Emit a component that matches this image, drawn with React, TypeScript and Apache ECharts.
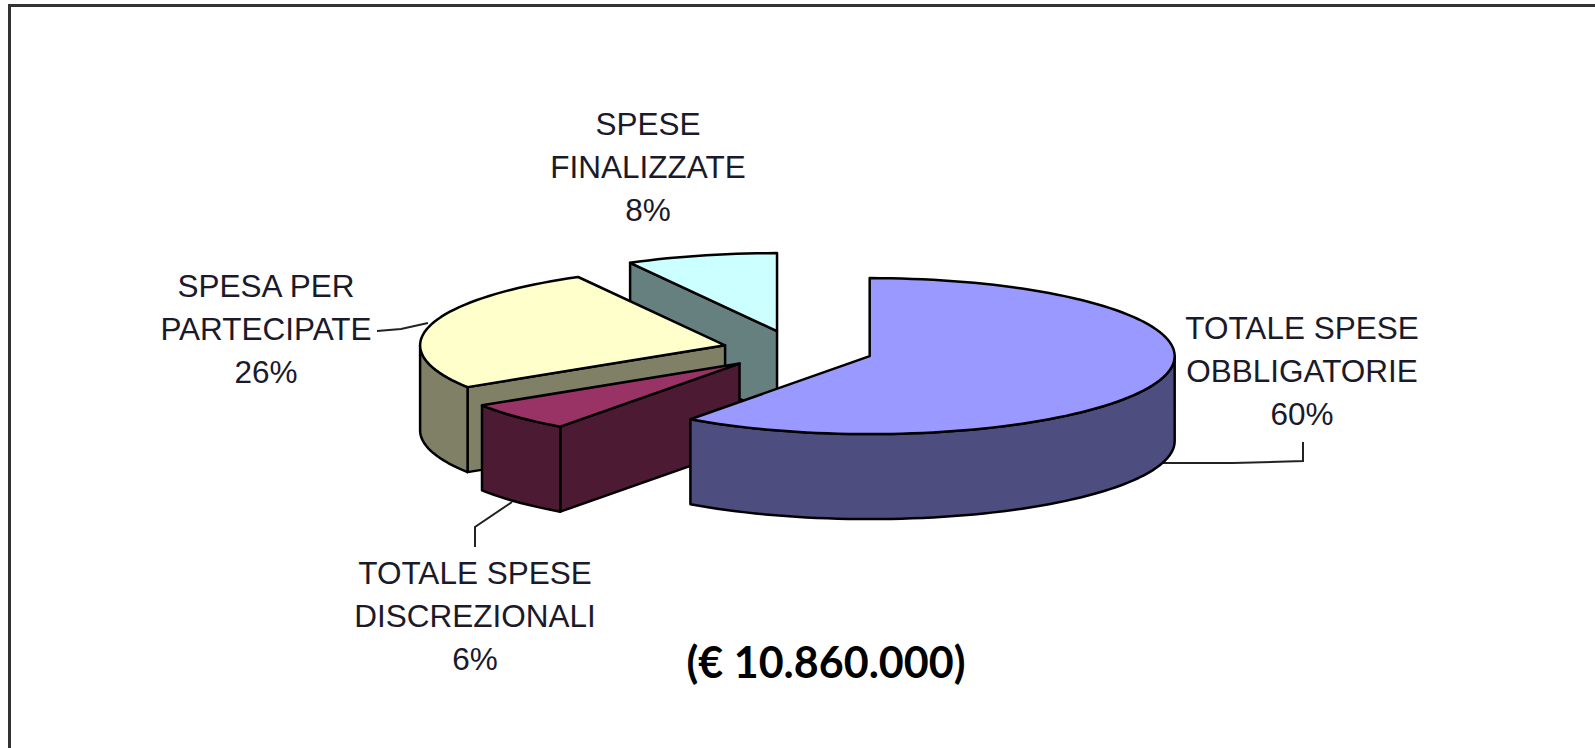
import React, { useEffect, useRef } from "react";
import * as echarts from "echarts";

// Paint order: back slices first, front slice last.
const categories = [
  "SPESE\nFINALIZZATE",
  "SPESA PER\nPARTECIPATE",
  "TOTALE SPESE\nDISCREZIONALI",
  "TOTALE SPESE\nOBBLIGATORIE",
];
const values = [8, 26, 6, 60];
const topColors = ["#ccffff", "#ffffcc", "#993366", "#9999ff"];
const wallColors = ["#668080", "#808066", "#4d1a33", "#4d4d80"];
const explodes = [0.25, 0.24, 0.254, 0.254];
const labelCentres = [
  [648, 167],
  [266, 329],
  [475, 616],
  [1302, 371],
];
const totalLabel = "(€ 10.860.000)";

const CX = 796;
const CY = 350;
const RX = 305;
const RY = 78;
const DEPTH = 85;
const RAD = Math.PI / 180;

const total = values.reduce((a, b) => a + b, 0);
const ends: number[] = [];
{
  let e = 360;
  for (const v of values) {
    ends.push(e);
    e -= (v / total) * 360;
  }
}

function arcPoints(ax: number, ay: number, from: number, to: number, dy = 0) {
  const pts: number[][] = [];
  const n = Math.max(2, Math.ceil((to - from) / 2));
  for (let i = 0; i <= n; i++) {
    const a = (from + ((to - from) * i) / n) * RAD;
    pts.push([ax + RX * Math.sin(a), ay - RY * Math.cos(a) + dy]);
  }
  return pts;
}

function renderSlice(params: any, api: any) {
  const i = params.dataIndex;
  const span = (api.value(0) / total) * 360;
  const end = ends[i];
  const start = end - span;
  const mid = ((start + end) / 2) * RAD;
  const ax = CX + explodes[i] * RX * Math.sin(mid);
  const ay = CY - explodes[i] * RY * Math.cos(mid);
  const edge = { stroke: "#000", lineWidth: 2.5, lineJoin: "round" };
  const children: any[] = [];

  const face = (points: number[][], fill: string) =>
    children.push({ type: "polygon", shape: { points }, style: { ...edge, fill } });

  // flat cut face facing the viewer
  const normalStart = -Math.cos((start - 90) * RAD);
  if (normalStart > 0.001) {
    const p = arcPoints(ax, ay, start, start)[0];
    face(
      [
        [ax, ay],
        [p[0], p[1]],
        [p[0], p[1] + DEPTH],
        [ax, ay + DEPTH],
      ],
      wallColors[i]
    );
  }
  // outer rounded wall: only the 90..270 part faces the viewer
  const wFrom = Math.max(start, 90);
  const wTo = Math.min(end, 270);
  if (wTo > wFrom) {
    const top = arcPoints(ax, ay, wFrom, wTo);
    const bottom = arcPoints(ax, ay, wFrom, wTo, DEPTH).reverse();
    face([...top, ...bottom], wallColors[i]);
  }
  // top face
  face([[ax, ay], ...arcPoints(ax, ay, start, end)], topColors[i]);

  return { type: "group", children };
}

const leaders = [
  [[377, 331], [401, 329], [428, 323]],
  [[475, 547], [475, 527], [512, 502]],
  [[1160, 463], [1233, 463], [1303, 461], [1303, 442]],
];

export default function App() {
  const ref = useRef<HTMLDivElement>(null);
  useEffect(() => {
    const chart = echarts.init(ref.current!, undefined, { renderer: "svg" });
    const labelFont = '31.5px "Liberation Sans", Arial, sans-serif';
    chart.setOption({
      animation: false,
      backgroundColor: "#ffffff",
      series: [
        {
          type: "custom",
          coordinateSystem: "none",
          renderItem: renderSlice,
          data: categories.map((name, i) => ({ name, value: values[i] })),
          silent: true,
        },
      ],
      graphic: [
        {
          type: "polyline",
          shape: { points: [[9.5, 748], [9.5, 5.5], [1595, 5.5]] },
          style: { fill: "none", stroke: "#333333", lineWidth: 3 },
        },
        ...leaders.map((points) => ({
          type: "polyline",
          shape: { points },
          style: { fill: "none", stroke: "#222222", lineWidth: 2 },
        })),
        ...categories.map((name, i) => ({
          type: "text",
          x: labelCentres[i][0],
          y: labelCentres[i][1],
          style: {
            text: `${name}\n${Math.round((values[i] / total) * 100)}%`,
            font: labelFont,
            lineHeight: 43,
            fill: "#1a1a2a",
            align: "center",
            verticalAlign: "middle",
          },
        })),
        {
          type: "text",
          x: 826,
          y: 661,
          style: {
            text: totalLabel,
            font: 'bold 43px Lato, "Open Sans", sans-serif',
            fill: "#000000",
            align: "center",
            verticalAlign: "middle",
          },
        },
      ],
    });
    return () => chart.dispose();
  }, []);
  return (
    <div
      ref={ref}
      style={{ position: "absolute", left: 0, top: 0, width: 1595, height: 748 }}
    />
  );
}
